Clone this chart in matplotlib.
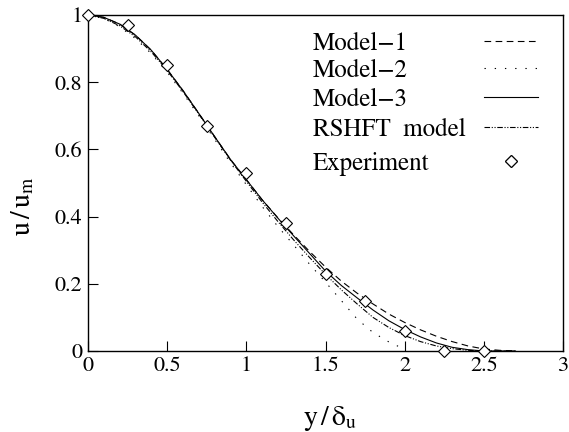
import matplotlib
matplotlib.use("Agg")
import matplotlib.pyplot as plt

plt.rcParams['font.family'] = ['STIXGeneral', 'DejaVu Serif']
plt.rcParams['mathtext.fontset'] = 'stix'

# data
x_grid = [0.0, 0.1, 0.2, 0.3, 0.4, 0.5, 0.6, 0.7, 0.8, 0.9, 1.0, 1.1, 1.2, 1.3,
          1.4, 1.5, 1.6, 1.7, 1.8, 1.9, 2.0, 2.1, 2.2, 2.3, 2.4, 2.5, 2.6, 2.7]
model1 = [1.0, 0.993, 0.973, 0.94, 0.895, 0.838, 0.775, 0.707, 0.638, 0.57, 0.51,
          0.45, 0.396, 0.345, 0.296, 0.25, 0.208, 0.172, 0.14, 0.11, 0.085, 0.063,
          0.044, 0.028, 0.015, 0.006, 0.002, 0.0]
model3 = [1.0, 0.993, 0.973, 0.94, 0.895, 0.838, 0.775, 0.707, 0.638, 0.57, 0.51,
          0.45, 0.395, 0.342, 0.29, 0.238, 0.195, 0.158, 0.122, 0.09, 0.064, 0.042,
          0.024, 0.011, 0.004, 0.0, 0.0, 0.0]
rshft = [1.0, 0.99, 0.968, 0.935, 0.89, 0.835, 0.772, 0.705, 0.636, 0.568, 0.505,
         0.443, 0.385, 0.33, 0.278, 0.228, 0.182, 0.14, 0.1, 0.07, 0.046, 0.028,
         0.015, 0.007, 0.002, 0.0, 0.0, 0.0]
x_m2 = [0.0, 0.1, 0.2, 0.3, 0.4, 0.5, 0.6, 0.7, 0.8, 0.9, 1.0, 1.1, 1.2, 1.3,
        1.4, 1.5, 1.6, 1.7, 1.8, 1.9, 2.0]
model2 = [1.0, 0.99, 0.965, 0.93, 0.885, 0.83, 0.767, 0.7, 0.63, 0.56, 0.495, 0.43,
          0.37, 0.315, 0.258, 0.205, 0.15, 0.095, 0.055, 0.027, 0.005]
x_exp = [0.0, 0.25, 0.5, 0.75, 1.0, 1.25, 1.5, 1.75, 2.0, 2.25, 2.5]
y_exp = [1.0, 0.97, 0.85, 0.67, 0.53, 0.38, 0.23, 0.15, 0.06, 0.0, 0.0]

labels = ['Model\u22121', 'Model\u22122', 'Model\u22123', 'RSHFT  model', 'Experiment']
x_ticks = [0, 0.5, 1, 1.5, 2, 2.5, 3]
x_ticklabels = ['0', '0.5', '1', '1.5', '2', '2.5', '3']
y_ticks = [0, 0.2, 0.4, 0.6, 0.8, 1]
y_ticklabels = ['0', '0.2', '0.4', '0.6', '0.8', '1']

W, H = 569, 432
fig = plt.figure(figsize=(W/100, H/100), dpi=100)
ax = fig.add_axes([88/W, 1-351/H, 475/W, 336/H])

lw = 0.8
h1, = ax.plot(x_grid, model1, color='black', lw=lw, dashes=(6, 4))
h2, = ax.plot(x_m2, model2, color='black', lw=lw, dashes=(1.2, 8))
h3, = ax.plot(x_grid, model3, color='black', lw=lw, ls='-')
h4, = ax.plot(x_grid, rshft, color='black', lw=lw, dashes=(5, 1.5, 1, 1.5, 1, 1.5))
h5, = ax.plot(x_exp, y_exp, ls='none', marker='D', ms=6, mfc='white', mec='black', mew=0.8,
              clip_on=False, zorder=5)

ax.set_xlim(0, 3)
ax.set_ylim(0, 1)
ax.set_xticks(x_ticks)
ax.set_xticklabels(x_ticklabels)
ax.set_yticks(y_ticks)
ax.set_yticklabels(y_ticklabels)
ax.tick_params(direction='in', length=7, width=0.8, labelsize=16, top=False, right=False, pad=4)
for s in ax.spines.values():
    s.set_linewidth(1.0)

ax.set_xlabel('y$\\,/\\,$\u03b4$_\\mathrm{u}$', fontsize=20)
ax.set_ylabel('u$\\,/\\,$u$_\\mathrm{m}$', fontsize=20)
ax.xaxis.set_label_coords((330 - 88) / 475, (351 - 404) / 336)
ax.yaxis.set_label_coords((36 - 88) / 475, (351 - 206) / 336)

# legend: left-aligned texts, handles in a right column
row_px = [44, 71, 100, 130, 164]
text_x = (313 - 88) / 475
handle_right = (538 - 88) / 475
for h, lab, ypx in zip([h1, h2, h3, h4, h5], labels, row_px):
    yf = (351 - ypx) / 336
    ax.text(text_x, yf, lab, transform=ax.transAxes, fontsize=18, ha='left', va='center')
    leg = ax.legend([h], [''], loc='center right', bbox_to_anchor=(handle_right, yf),
                    frameon=False, handlelength=2.15, handletextpad=0, borderpad=0,
                    borderaxespad=0, markerscale=1.0, fontsize=18)
    ax.add_artist(leg)

fig.savefig('out.png', dpi=100)
